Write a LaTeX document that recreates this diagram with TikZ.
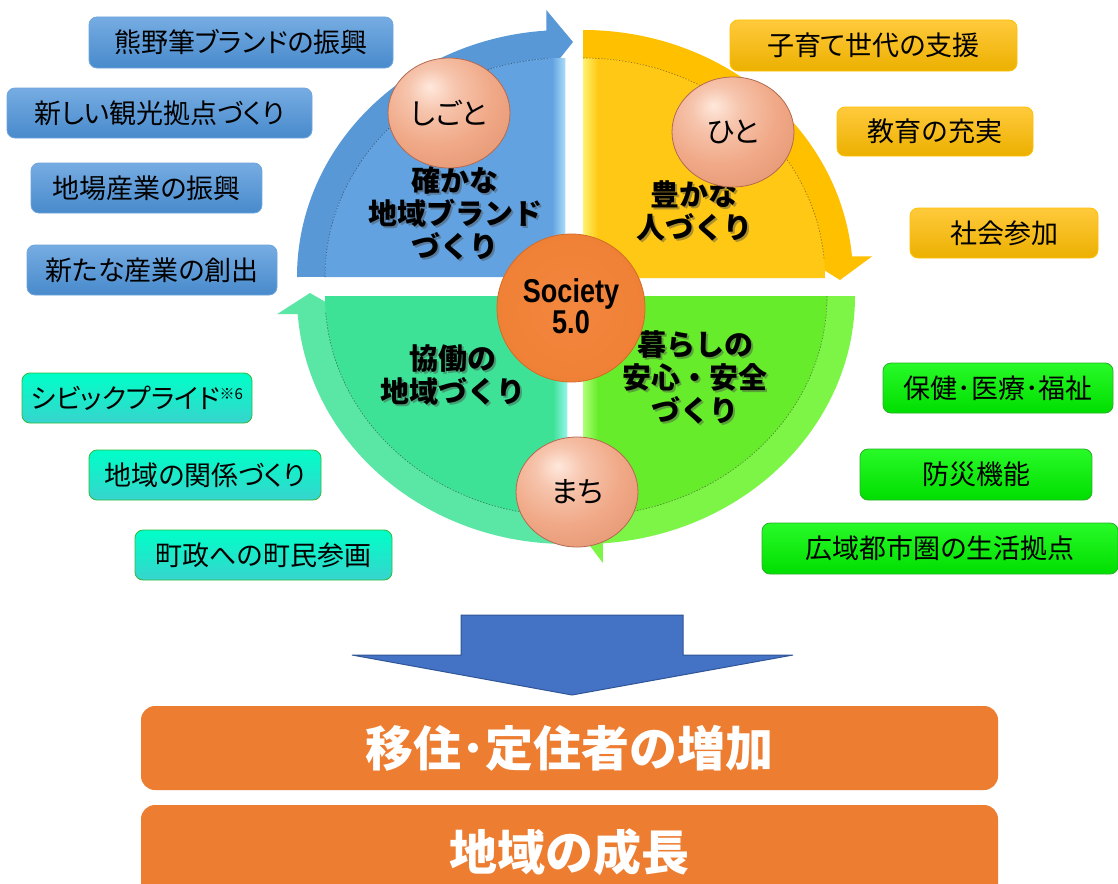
\documentclass[tikz,border=0pt]{standalone}
\usepackage{fontspec}
\setmainfont{Noto Sans CJK JP}
\newfontfamily\jp{Noto Sans CJK JP}[RawFeature=+palt]
\newfontfamily\lat{Liberation Sans}
\usetikzlibrary{shapes.geometric}
% quadrant colours
\definecolor{bband}{RGB}{88,152,214}
\definecolor{binner}{RGB}{98,162,224}
\definecolor{bstrip}{RGB}{170,220,250}
\definecolor{yband}{RGB}{255,192,0}
\definecolor{yinner}{RGB}{255,200,20}
\definecolor{ystrip}{RGB}{255,242,110}
\definecolor{gband}{RGB}{125,245,70}
\definecolor{ginner}{RGB}{102,236,42}
\definecolor{gstrip}{RGB}{175,255,120}
\definecolor{tband}{RGB}{90,230,165}
\definecolor{tinner}{RGB}{62,226,150}
\definecolor{tstrip}{RGB}{150,245,235}
% boxes
\definecolor{bbt}{RGB}{118,172,226}
\definecolor{bbb}{RGB}{72,138,204}
\definecolor{bbd}{RGB}{110,165,220}
\definecolor{ybt}{RGB}{255,202,60}
\definecolor{ybb}{RGB}{236,176,0}
\definecolor{ybd}{RGB}{255,192,0}
\definecolor{gbt}{RGB}{40,250,40}
\definecolor{gbb}{RGB}{0,222,0}
\definecolor{gbd}{RGB}{40,175,40}
\definecolor{tbt}{RGB}{0,255,200}
\definecolor{tbb}{RGB}{55,212,205}
\definecolor{tbd}{RGB}{50,185,60}
% spheres
\definecolor{pkhi}{RGB}{255,232,220}
\definecolor{pkmid}{RGB}{246,196,172}
\definecolor{pkbody}{RGB}{240,168,134}
\definecolor{pkdark}{RGB}{222,140,104}
\definecolor{pkedge}{RGB}{190,108,78}
\definecolor{pkline}{RGB}{180,105,80}
\definecolor{socin}{RGB}{243,135,62}
\definecolor{socmid}{RGB}{237,125,49}
\definecolor{socedge}{RGB}{214,106,36}
\definecolor{orng}{RGB}{237,125,49}
\definecolor{arrblue}{RGB}{68,114,196}
\definecolor{arrline}{RGB}{47,85,151}
\pgfdeclareradialshading{peachball}{\pgfpoint{-8bp}{12bp}}{color(0bp)=(pkhi); color(10bp)=(pkmid); color(24bp)=(pkbody); color(46bp)=(pkdark); color(60bp)=(pkedge); color(80bp)=(pkedge)}
\pgfdeclareradialshading{socball}{\pgfpoint{0bp}{0bp}}{color(0bp)=(socin); color(40bp)=(socmid); color(50bp)=(socedge); color(70bp)=(socedge)}
\begin{document}
\begin{tikzpicture}[x=1pt,y=-1pt,
  box/.style={rounded corners=8pt, inner sep=0pt, font=\jp\fontsize{27}{30}\selectfont, text=black, line width=0.8pt},
  bbox/.style={box, top color=bbt, bottom color=bbb, draw=bbd},
  ybox/.style={box, top color=ybt, bottom color=ybb, draw=ybd},
  gbox/.style={box, top color=gbt, bottom color=gbb, draw=gbd},
  tbox/.style={box, top color=tbt, bottom color=tbb, draw=tbd},
  qtext/.style={align=center, font=\fontsize{29}{33}\selectfont\bfseries, text=black, inner sep=0pt},
  qshadow/.style={qtext, text=black!70, opacity=0.45},
  sphere/.style={ellipse, minimum width=122pt, minimum height=110pt, shading=peachball, draw=pkline, line width=0.8pt, font=\jp\fontsize{29}{30}\selectfont, inner sep=0pt},
  obox/.style={rounded corners=14pt, fill=orng, minimum width=857pt, text=white, font=\fontsize{48}{50}\selectfont\bfseries, inner sep=0pt},
  innerline/.style={line width=0.6pt, dash pattern=on 1.5pt off 1.5pt}
]
\useasboundingbox (0,0) rectangle (1118,883);
\fill[white] (0,0) rectangle (1118,883);

% ---------- blue quadrant (top-left) ----------
\fill[bband] (297,277) arc[start angle=180,end angle=266,x radius=268,y radius=247]
  -- (546.3,10) -- (573,42) -- (548.3,73) -- (548.3,58.5)
  arc[start angle=266,end angle=180,x radius=240,y radius=219] -- cycle;
\fill[binner] (565,277) -- (325,277) arc[start angle=180,end angle=270,x radius=240,y radius=219] -- cycle;
\shade[left color=binner, right color=bstrip] (552,59) rectangle (565,277);
\draw[innerline, bband!60!black] (325,277) arc[start angle=180,end angle=266,x radius=240,y radius=219];

% ---------- yellow quadrant (top-right) ----------
\fill[yband] (583,30) arc[start angle=270,end angle=355,x radius=270,y radius=248]
  -- (872,256.4) -- (840,280) -- (806,258.8) -- (824.1,258.8)
  arc[start angle=355,end angle=270,x radius=242,y radius=220] -- cycle;
\fill[yinner] (583,278) -- (583,58) arc[start angle=270,end angle=360,x radius=242,y radius=220] -- cycle;
\shade[left color=ystrip, right color=yinner] (583,59) rectangle (598,278);
\draw[innerline, yband!60!black] (583,58) arc[start angle=270,end angle=355,x radius=242,y radius=220];

% ---------- green quadrant (bottom-right) ----------
\fill[gband] (855,296) arc[start angle=0,end angle=85.8,x radius=272,y radius=248]
  -- (602.9,563) -- (578,530) -- (600.9,500) -- (600.9,515.4)
  arc[start angle=85.8,end angle=0,x radius=244,y radius=220] -- cycle;
\fill[ginner] (583,296) -- (827,296) arc[start angle=0,end angle=90,x radius=244,y radius=220] -- cycle;
\shade[left color=gstrip, right color=ginner] (583,296) rectangle (598,515);
\draw[innerline, gband!55!black] (827,296) arc[start angle=0,end angle=85.8,x radius=244,y radius=220];

% ---------- teal quadrant (bottom-left) ----------
\fill[tband] (567,544) arc[start angle=90,end angle=175.8,x radius=270,y radius=248]
  -- (277,314.2) -- (310,293) -- (343,312.1) -- (325.7,312.1)
  arc[start angle=175.8,end angle=90,x radius=242,y radius=220] -- cycle;
\fill[tinner] (567,296) -- (567,516) arc[start angle=90,end angle=180,x radius=242,y radius=220] -- cycle;
\shade[left color=tinner, right color=tstrip] (553,296) rectangle (567,515);
\draw[innerline, tband!55!black] (567,516) arc[start angle=90,end angle=175.8,x radius=242,y radius=220];

% ---------- quadrant texts ----------
\node[qshadow] (qbs) at (457,215) {確かな\\地域ブランド\\づくり};
\node[qtext] (qb) at (455,213) {確かな\\地域ブランド\\づくり};
\node[qshadow] (qys) at (696,213) {豊かな\\人づくり};
\node[qtext] (qy) at (694,211) {豊かな\\人づくり};
\node[qshadow] (qts) at (455,377) {協働の\\地域づくり};
\node[qtext] (qt) at (453,375) {協働の\\地域づくり};
\node[qshadow] (qgs) at (697,379) {暮らしの\\安心・安全\\づくり};
\node[qtext] (qg) at (695,377) {暮らしの\\安心・安全\\づくり};

% ---------- centre and spheres ----------
\node[circle, minimum size=148pt, shading=socball, draw=socedge, line width=0.8pt] (soc) at (571,308) {};
\node[align=center, font=\lat\bfseries\fontsize{33}{31}\selectfont, inner sep=0pt] (soct) at (571,306)
  {\scalebox{0.82}[1]{Society}\\\scalebox{0.82}[1]{5.0}};
\node[sphere] (shigoto) at (449,113) {しごと};
\node[sphere] (hito) at (733,132) {ひと};
\node[sphere] (machi) at (577,492) {まち};

% ---------- blue boxes ----------
\node[bbox, minimum width=304pt, minimum height=51pt] (b1) at (241,42.5) {熊野筆ブランドの振興};
\node[bbox, minimum width=305pt, minimum height=50pt] (b2) at (159.5,113) {新しい観光拠点づくり};
\node[bbox, minimum width=231pt, minimum height=50pt] (b3) at (146.5,188) {地場産業の振興};
\node[bbox, minimum width=250pt, minimum height=50pt] (b4) at (152,270) {新たな産業の創出};

% ---------- yellow boxes ----------
\node[ybox, minimum width=287pt, minimum height=51pt] (y1) at (873.5,45.5) {子育て世代の支援};
\node[ybox, minimum width=196pt, minimum height=49pt] (y2) at (935,131.5) {教育の充実};
\node[ybox, minimum width=188pt, minimum height=50pt] (y3) at (1004,233) {社会参加};

% ---------- green boxes ----------
\node[gbox, minimum width=230pt, minimum height=50pt] (g1) at (998,388) {保健･医療･福祉};
\node[gbox, minimum width=232pt, minimum height=51pt] (g2) at (976,474.5) {防災機能};
\node[gbox, minimum width=356pt, minimum height=51pt] (g3) at (940,548.5) {広域都市圏の生活拠点};

% ---------- teal boxes ----------
\node[tbox, minimum width=230pt, minimum height=50pt] (t1) at (137,398) {シビックプライド\raisebox{9pt}{\fontsize{15}{15}\selectfont ※6}};
\node[tbox, minimum width=232pt, minimum height=50pt] (t2) at (205,475) {地域の関係づくり};
\node[tbox, minimum width=257pt, minimum height=50pt] (t3) at (263.5,555) {町政への町民参画};

% ---------- block arrow ----------
\filldraw[fill=arrblue, draw=arrline, line width=1pt]
  (461,615) -- (683,615) -- (683,655) -- (793,655) -- (572,695) -- (352,655) -- (461,655) -- cycle;

% ---------- result boxes ----------
\node[obox, minimum height=84pt] (o1) at (569.5,748) {移住･定住者の増加};
\node[obox, minimum height=95pt] (o2) at (569.5,852.5) {地域の成長};
\end{tikzpicture}
\end{document}
